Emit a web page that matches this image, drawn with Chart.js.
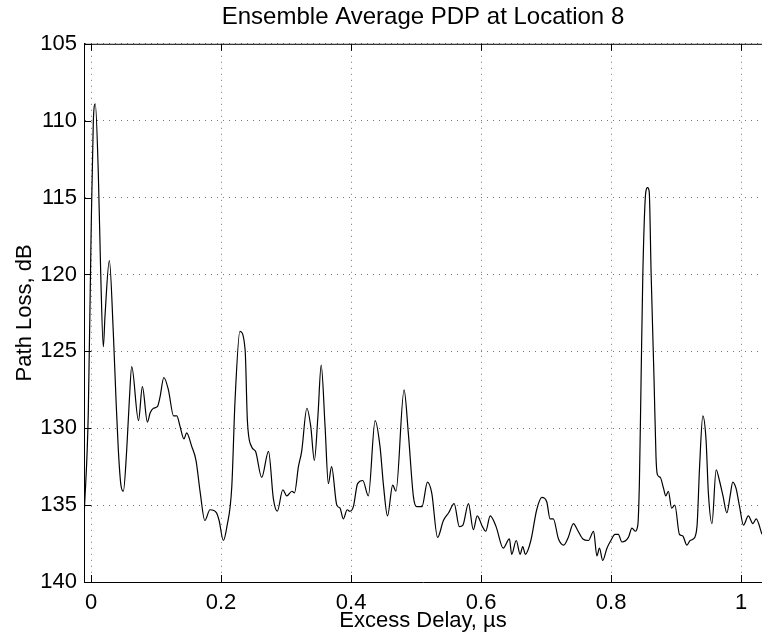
<!DOCTYPE html>
<html>
<head>
<meta charset="utf-8">
<script src="https://cdn.jsdelivr.net/npm/chart.js@4/dist/chart.umd.min.js"></script>
<style>
html, body { margin: 0; padding: 0; background: #fff; }
</style>
</head>
<body>
<canvas id="chart" width="762" height="642"></canvas>
<script>
// excess delay (us) and path loss (dB)
const delay = [
	-0.0105, -0.0042, 0.0, 0.0035, 0.0066, 0.0112, 0.0149, 0.0189, 0.0215, 0.0282, 0.0343, 0.0385, 0.042, 0.0457, 0.0497, 0.0549, 0.0589, 0.0626,
	0.073, 0.079, 0.0867, 0.091, 0.096, 0.102, 0.106, 0.112, 0.119, 0.127, 0.132, 0.137, 0.143, 0.147, 0.155, 0.1615, 0.168, 0.175, 0.183, 0.193, 0.197,
	0.2035, 0.209, 0.2165, 0.2215, 0.229, 0.237, 0.2405, 0.247, 0.253, 0.2625, 0.273, 0.2805, 0.2865,
	0.295, 0.301, 0.309, 0.313, 0.319, 0.324, 0.332, 0.338, 0.3435, 0.349, 0.354, 0.36, 0.365, 0.370, 0.378, 0.383, 0.388, 0.394, 0.398,
	0.4035, 0.41, 0.418, 0.4265, 0.437, 0.4445, 0.45, 0.456, 0.464, 0.469, 0.4815, 0.488, 0.496, 0.501, 0.509, 0.5175, 0.524, 0.533, 0.542, 0.55,
	0.5585, 0.5665, 0.572, 0.5805, 0.588, 0.594, 0.602, 0.607, 0.614, 0.623, 0.634, 0.6435, 0.647, 0.654, 0.66, 0.664, 0.668, 0.6765, 0.6855,
	0.6935, 0.701, 0.706, 0.711, 0.719, 0.727, 0.734, 0.742, 0.748, 0.7565, 0.765, 0.773, 0.778, 0.782, 0.787, 0.7935, 0.7995, 0.806, 0.811,
	0.8165, 0.8265, 0.832, 0.837, 0.841, 0.8435, 0.846, 0.8487, 0.8534, 0.856, 0.8585, 0.8615, 0.866, 0.869, 0.871, 0.8755, 0.8805, 0.884, 0.888,
	0.893, 0.898, 0.905, 0.910, 0.9165, 0.9215, 0.9265, 0.932, 0.936, 0.941, 0.946, 0.9495, 0.955, 0.9615, 0.9665, 0.972, 0.978, 0.983, 0.987,
	0.992, 0.9975, 1.0035, 1.011, 1.018, 1.023, 1.032
]
const pathLoss = [
	135.6, 129.0, 117.7, 110.1, 108.9, 113.4, 119.9, 124.7, 122.7, 119.1, 123.8, 128.2, 131.4, 133.6, 134.1, 131.4, 128.2, 126.0,
	129.5, 127.3, 129.6, 129.0, 128.7, 128.6, 128.0, 126.7, 127.5, 129.2, 129.2, 129.9, 130.7, 130.3, 131.2, 132.1, 134.2, 136.0, 135.3, 135.5, 136.0,
	137.3, 136.4, 133.8, 128.2, 123.7, 124.9, 129.5, 131.2, 131.5, 133.2, 131.5, 134.6, 135.4,
	134.0, 134.4, 134.1, 134.2, 132.5, 131.5, 128.7, 129.9, 132.1, 129.2, 125.9, 129.9, 133.6, 132.5, 135.0, 135.2, 135.9, 135.3, 135.4,
	135.1, 133.6, 133.4, 134.4, 129.5, 131.2, 133.8, 135.7, 133.7, 134.1, 127.5, 130.3, 134.5, 135.1, 135.1, 133.5, 134.2, 137.1, 136.0, 135.5,
	134.9, 136.4, 136.3, 134.9, 136.6, 135.7, 136.4, 136.7, 135.7, 136.4, 137.8, 137.2, 138.2, 137.3, 138.2, 137.7, 138.2, 137.3, 135.3,
	134.5, 134.8, 135.9, 135.9, 137.2, 137.6, 137.1, 136.2, 136.6, 137.2, 137.3, 136.7, 138.3, 137.8, 138.6, 137.8, 137.3, 136.9, 136.9,
	137.4, 137.1, 136.5, 136.7, 136.3, 133.4, 126.9, 120.0, 114.6, 114.35, 114.6, 120.0, 126.9, 131.9, 133.0, 133.2, 133.9, 134.4, 134.1,
	135.2, 135.0, 136.9, 137.0, 137.6, 137.3, 137.2, 136.4, 132.5, 129.2, 130.8, 134.2, 136.2, 132.7, 133.4, 134.4, 135.5, 134.4, 133.5,
	133.9, 135.1, 136.3, 135.7, 136.2, 135.9, 136.9
]
const xTicks = [0, 0.2, 0.4, 0.6, 0.8, 1]
const yTicks = [105, 110, 115, 120, 125, 130, 135, 140]

const font = "'Liberation Sans', Arial, Helvetica, sans-serif"

// MATLAB style: ticks inside the box, and the top edge of the box
const boxTicks = {
	id: "boxTicks",
	afterDatasetsDraw(chart){
		const {ctx, chartArea: a, scales: {x, y}} = chart
		ctx.save()
		ctx.strokeStyle = "#000"
		ctx.lineWidth = 1
		ctx.beginPath()
		ctx.moveTo(a.left, a.top + 0.5)
		ctx.lineTo(a.right, a.top + 0.5)
		x.ticks.forEach(t => {
			let px = Math.round(x.getPixelForValue(t.value)) + 0.5
			ctx.moveTo(px, a.bottom)
			ctx.lineTo(px, a.bottom - 7)
			ctx.moveTo(px, a.top)
			ctx.lineTo(px, a.top + 7)
		})
		y.ticks.forEach(t => {
			let py = Math.round(y.getPixelForValue(t.value)) + 0.5
			ctx.moveTo(a.left, py)
			ctx.lineTo(a.left + 7, py)
		})
		ctx.stroke()
		ctx.restore()
	}
}

let chart = new Chart(document.querySelector("#chart").getContext("2d"), {
	type: "line",
	data: {
		datasets: [{
			data: delay.map((d, i) => ({x: d, y: pathLoss[i]})),
			borderColor: "#000",
			borderWidth: 1.2,
			pointRadius: 0,
			fill: false,
			cubicInterpolationMode: "monotone"
		}]
	},
	options: {
		responsive: false,
		animation: false,
		layout: {padding: 0},
		plugins: {
			legend: {display: false},
			tooltip: {enabled: false},
			title: {
				display: true,
				fullSize: false,
				text: "Ensemble Average PDP at Location 8",
				color: "#000",
				font: {family: font, size: 24, weight: "normal"},
				padding: {top: 3, bottom: 12}
			}
		},
		scales: {
			x: {
				type: "linear",
				min: -0.0108,
				max: 1.032,
				afterBuildTicks: s => { s.ticks = xTicks.map(v => ({value: v})) },
				afterFit: s => { s.height = 60 },
				ticks: {
					color: "#000",
					padding: 8,
					maxRotation: 0,
					font: {family: font, size: 22},
					callback: v => String(+v.toFixed(1))
				},
				grid: {color: "#777", lineWidth: 1, drawTicks: false},
				border: {display: true, color: "#000", width: 1, dash: [1, 5]},
				title: {
					display: true,
					text: "Excess Delay, µs",
					color: "#000",
					font: {family: font, size: 22},
					padding: {top: 0, bottom: 8}
				}
			},
			y: {
				type: "linear",
				reverse: true,
				min: 105,
				max: 140,
				afterBuildTicks: s => { s.ticks = yTicks.map(v => ({value: v})) },
				afterFit: s => { s.width = 84 },
				ticks: {
					color: "#000",
					padding: 7,
					font: {family: font, size: 22}
				},
				grid: {color: "#777", lineWidth: 1, drawTicks: false},
				border: {display: true, color: "#000", width: 1, dash: [1, 5]},
				title: {
					display: true,
					text: "Path Loss, dB",
					color: "#000",
					font: {family: font, size: 22},
					padding: {top: 12, bottom: 0}
				}
			}
		}
	},
	plugins: [boxTicks]
})
</script>
</body>
</html>
